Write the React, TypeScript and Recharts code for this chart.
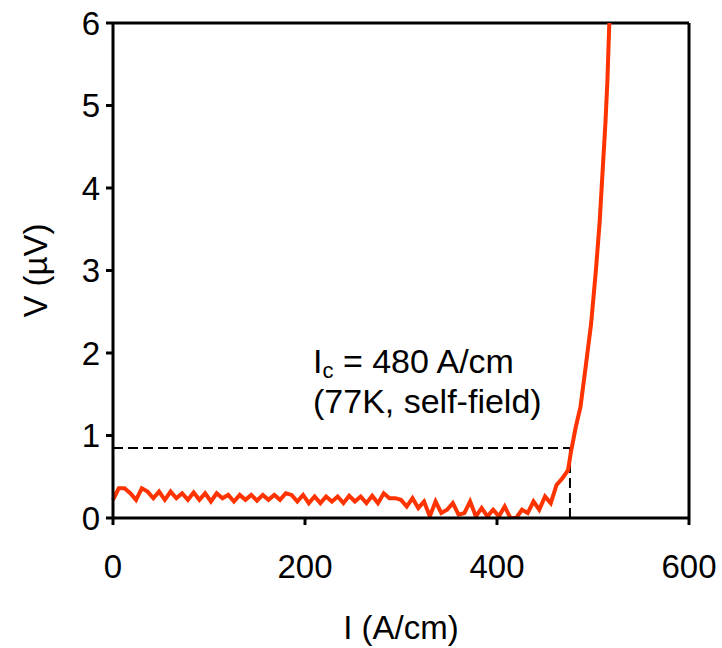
import { LineChart, Line, XAxis, YAxis, ReferenceLine, Label } from "recharts";

// current (A/cm) and voltage (uV)
const current = [
  0, 6, 12, 18, 24, 30, 36, 42, 48, 54, 60, 66, 72, 78, 84, 90, 96, 102, 108, 114,
  120, 126, 132, 138, 144, 150, 156, 162, 168, 174, 180, 186, 192, 198, 204, 210,
  216, 222, 228, 234, 240, 246, 252, 258, 264, 270, 276, 282, 288, 294, 300, 306,
  312, 318, 324, 330, 336, 342, 348, 354, 360, 366, 372, 378, 384, 390, 396, 402,
  408, 414, 420, 426, 432, 438, 444, 450, 456, 462, 468, 474, 477, 482, 487, 492,
  498, 503, 507, 510, 513, 515, 517,
];
const voltage = [
  0.22, 0.36, 0.36, 0.3, 0.22, 0.36, 0.32, 0.24, 0.32, 0.22, 0.32, 0.24, 0.3, 0.22,
  0.31, 0.22, 0.3, 0.2, 0.3, 0.24, 0.28, 0.2, 0.28, 0.22, 0.28, 0.21, 0.28, 0.22,
  0.28, 0.22, 0.3, 0.28, 0.2, 0.28, 0.18, 0.26, 0.18, 0.26, 0.2, 0.26, 0.18, 0.27,
  0.2, 0.26, 0.18, 0.27, 0.18, 0.3, 0.24, 0.24, 0.22, 0.14, 0.24, 0.12, 0.2, 0.02,
  0.2, 0.06, 0.1, 0.18, 0.04, 0.06, 0.2, 0.02, 0.12, 0.02, 0.1, 0.02, 0.14, 0.0,
  0.0, 0.1, 0.06, 0.2, 0.1, 0.26, 0.18, 0.4, 0.48, 0.58, 0.8, 1.1, 1.35, 1.8, 2.35,
  3.0, 3.6, 4.2, 4.8, 5.3, 6.0,
];
const xTicks = [0, 200, 400, 600];
const yTicks = [0, 1, 2, 3, 4, 5, 6];
const icCurrent = 476;
const icVoltage = 0.85;

const data = current.map((i, k) => ({ i, v: voltage[k] }));

const font = "'Liberation Sans', Arial, sans-serif";
const tickStyle = { fontSize: 33, fill: "#000", fontFamily: font };

export default function App() {
  return (
    <div style={{ position: "absolute", left: 0, top: 0, width: 722, height: 648 }}>
      <LineChart
        width={722}
        height={648}
        data={data}
        margin={{ top: 23, right: 33, left: 13, bottom: 0 }}
      >
        <XAxis
          dataKey="i"
          type="number"
          domain={[0, 600]}
          ticks={xTicks}
          tick={tickStyle}
          tickSize={7}
          tickMargin={30}
          height={130}
          axisLine={{ stroke: "#000", strokeWidth: 3 }}
          tickLine={{ stroke: "#000", strokeWidth: 3 }}
        >
          <Label
            value="I (A/cm)"
            position="center"
            dy={44}
            style={{ fontSize: 33, fill: "#000", fontFamily: font }}
          />
        </XAxis>
        <YAxis
          type="number"
          domain={[0, 6]}
          ticks={yTicks}
          tick={tickStyle}
          tickSize={7}
          tickMargin={6}
          width={100}
          axisLine={{ stroke: "#000", strokeWidth: 3 }}
          tickLine={{ stroke: "#000", strokeWidth: 3 }}
          allowDataOverflow
        >
          <Label
            value="V (µV)"
            position="center"
            angle={-90}
            dx={-28}
            style={{ fontSize: 33, fill: "#000", fontFamily: font }}
          />
        </YAxis>
        <ReferenceLine y={6} stroke="#000" strokeWidth={3} />
        <ReferenceLine x={600} stroke="#000" strokeWidth={3} />
        <ReferenceLine
          segment={[
            { x: 0, y: icVoltage },
            { x: icCurrent, y: icVoltage },
          ]}
          stroke="#000"
          strokeWidth={2}
          strokeDasharray="10 5"
        />
        <ReferenceLine
          segment={[
            { x: icCurrent, y: 0 },
            { x: icCurrent, y: icVoltage },
          ]}
          stroke="#000"
          strokeWidth={2}
          strokeDasharray="10 5"
        />
        <Line
          dataKey="v"
          stroke="#ff3300"
          strokeWidth={4}
          dot={false}
          isAnimationActive={false}
        />
      </LineChart>
      <svg
        width={722}
        height={648}
        style={{ position: "absolute", left: 0, top: 0, pointerEvents: "none" }}
      >
        <text x={313} y={373} fontSize={34} fontFamily={font} fill="#000">
          I
          <tspan fontSize={22} dy={5}>c</tspan>
          <tspan dy={-5}> = 480 A/cm</tspan>
        </text>
        <text x={313} y={413} fontSize={34} fontFamily={font} fill="#000">
          (77K, self-field)
        </text>
      </svg>
    </div>
  );
}
